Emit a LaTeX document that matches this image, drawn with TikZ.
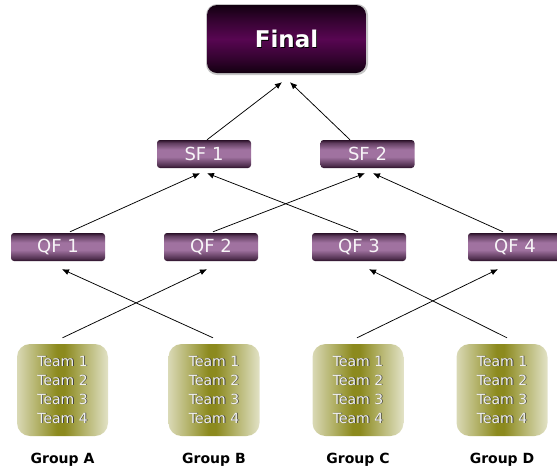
\documentclass[tikz,border=0pt]{standalone}
\usepackage{fontspec}
\setmainfont{DejaVu Sans}
\usetikzlibrary{arrows.meta,calc}
\definecolor{pdark}{HTML}{2A1028}
\definecolor{plight}{HTML}{A072A0}
\definecolor{fdark}{HTML}{120010}
\definecolor{fmid}{HTML}{580652}
\definecolor{olight}{HTML}{E2E2C6}
\definecolor{odark}{HTML}{8C8A1E}
\pgfdeclareverticalshading{roundshade}{100bp}{color(0bp)=(pdark); color(25bp)=(pdark); color(30bp)=(pdark!65!plight); color(45bp)=(plight); color(58bp)=(plight); color(70bp)=(pdark!55!plight); color(75bp)=(pdark); color(100bp)=(pdark)}
\pgfdeclareverticalshading{finalshade}{100bp}{color(0bp)=(fdark); color(25bp)=(fdark); color(35bp)=(fdark!55!fmid); color(50bp)=(fmid); color(65bp)=(fdark!55!fmid); color(75bp)=(fdark); color(100bp)=(fdark)}
\pgfdeclarehorizontalshading{teamshade}{100bp}{color(0bp)=(olight!90!odark); color(25bp)=(olight!90!odark); color(47bp)=(odark); color(51bp)=(odark); color(75bp)=(olight); color(100bp)=(olight)}
\newcommand\shtxt[2]{\leavevmode\rlap{\raisebox{-0.9pt}{\hspace{0.9pt}\textcolor{#2}{#1}}}#1}
\tikzset{
  roundbox/.style={rectangle, rounded corners=3pt, shading=roundshade, minimum width=94pt, minimum height=28pt, inner sep=0pt, text=white!92!plight, font=\fontsize{18}{20}\selectfont},
  finalbox/.style={rectangle, rounded corners=10pt, shading=finalshade, minimum width=159pt, minimum height=68pt, inner sep=0pt, text=white, font=\fontsize{23}{26}\selectfont\bfseries},
  teambox/.style={rectangle, rounded corners=13pt, shading=teamshade, minimum width=91pt, minimum height=92pt, inner sep=0pt, align=center, text=gray!12, font=\fontsize{14}{19}\selectfont},
  grouplabel/.style={font=\fontsize{14}{16}\selectfont\bfseries, text=black},
  conn/.style={line width=0.75pt, black, -{Latex[length=7pt,width=6pt]}}
}
\begin{document}
\begin{tikzpicture}[x=1pt,y=-1pt]
\useasboundingbox (0,0) rectangle (557,475);
\clip (0,0) rectangle (557,475);
% Final
\fill[gray!45, rounded corners=11pt] (206,4) rectangle (368,75);
\node[finalbox] (final) at (286.5,39) {\shtxt{Final}{black}};
% SF
\node[roundbox] (sf1) at (204,154) {SF 1};
\node[roundbox] (sf2) at (367.5,154) {SF 2};
% QF
\node[roundbox] (qf1) at (58,247) {QF 1};
\node[roundbox] (qf2) at (211,247) {QF 2};
\node[roundbox] (qf3) at (359,247) {QF 3};
\node[roundbox] (qf4) at (515,247) {QF 4};
% Teams
\foreach \n/\x in {ta/62.5, tb/214, tc/358, td/502}{
  \node[teambox] (\n) at (\x,390) {\shtxt{Team 1}{black!75}\\\shtxt{Team 2}{black!75}\\\shtxt{Team 3}{black!75}\\\shtxt{Team 4}{black!75}};
}
% Group labels
\node[grouplabel] (ga) at (62.5,460) {Group A};
\node[grouplabel] (gb) at (214,460) {Group B};
\node[grouplabel] (gc) at (358,460) {Group C};
\node[grouplabel] (gd) at (502,460) {Group D};
% Connectors
\draw[conn] ($(sf1.north)+(3,0)$) -- ($(final.south)+(-4.5,9)$);
\draw[conn] ($(sf2.north)+(-17.5,0)$) -- ($(final.south)+(3.5,9)$);
\draw[conn] ($(qf1.north)+(12,-1)$) -- ($(sf1.south)+(-4,5)$);
\draw[conn] ($(qf3.north)+(-1,-1)$) -- ($(sf1.south)+(3,5)$);
\draw[conn] ($(qf2.north)+(2,-1)$) -- ($(sf2.south)+(-2.5,5)$);
\draw[conn] ($(qf4.north)+(-12,-1)$) -- ($(sf2.south)+(5.5,5)$);
\draw[conn] ($(ta.north)+(0,-6)$) -- ($(qf2.south)+(-4,8)$);
\draw[conn] ($(tb.north)+(-1,-6)$) -- ($(qf1.south)+(4,8)$);
\draw[conn] ($(tc.north)+(-1,-6)$) -- ($(qf4.south)+(-17,8)$);
\draw[conn] ($(td.north)+(5,-6)$) -- ($(qf3.south)+(10,8)$);
\end{tikzpicture}
\end{document}
